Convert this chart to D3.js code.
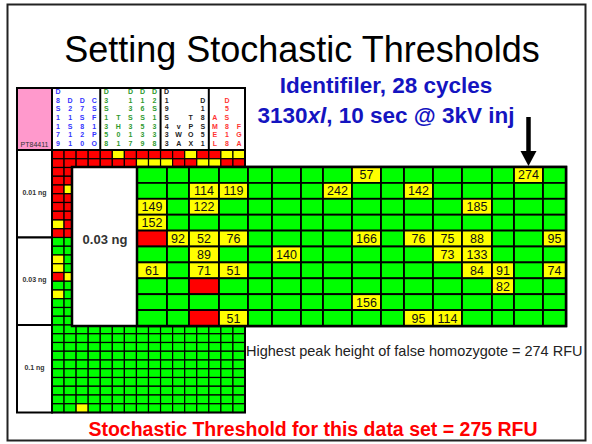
<!DOCTYPE html>
<html>
<head>
<meta charset="utf-8">
<script src="https://cdn.jsdelivr.net/npm/d3@7"></script>
<style>
body { margin: 0; background: #fff; }
text { font-family: "Liberation Sans", Arial, sans-serif; }
</style>
</head>
<body>
<div id="slide"></div>
<script>
// loci of the Identifiler kit, in dye order
const loci = ["D8S1179", "D21S11", "D7S820", "CSF1PO",
              "D3S1358", "TH01", "D13S317", "D16S539", "D2S1338",
              "D19S433", "vWA", "TPOX", "D18S51",
              "AMEL", "D5S818", "FGA"];
const dyes = ["FAM", "FAM", "FAM", "FAM",
              "VIC", "VIC", "VIC", "VIC", "VIC",
              "NED", "NED", "NED", "NED",
              "PET", "PET", "PET"];
const sample = "PT84411";
const doses = ["0.01 ng", "0.03 ng", "0.1 ng"];

// G = both alleles, Y = false homozygote, R = full dropout, "." = hidden under the zoom panel
const calls001 = [
  "RRRRRYRRRRRYRRYY",
  "RRRRRRRYYYRRYYRR",
  "RR..............",
  "RR..............",
  "RY..............",
  "RR..............",
  "RR..............",
  "RR..............",
  "YR..............",
  "RR.............."
];
// 0.03 ng: 0 = both alleles, -1 = dropout, number = surviving peak height (RFU)
const peaks003 = [
  [0, 0, 0, 0, 0, 0, 0, 0, 57, 0, 0, 0, 0, 0, 274, 0],
  [0, 0, 114, 119, 0, 0, 0, 242, 0, 0, 142, 0, 0, 0, 0, 0],
  [149, 0, 122, 0, 0, 0, 0, 0, 0, 0, 0, 0, 185, 0, 0, 0],
  [152, 0, 0, 0, 0, 0, 0, 0, 0, 0, 0, 0, 0, 0, 0, 0],
  [-1, 92, 52, 76, 0, 0, 0, 0, 166, 0, 76, 75, 88, 0, 0, 95],
  [0, 0, 89, 0, 0, 140, 0, 0, 0, 0, 0, 73, 133, 0, 0, 0],
  [61, 0, 71, 51, 0, 0, 0, 0, 0, 0, 0, 0, 84, 91, 0, 74],
  [0, 0, -1, 0, 0, 0, 0, 0, 0, 0, 0, 0, 0, 82, 0, 0],
  [0, 0, 0, 0, 0, 0, 0, 0, 156, 0, 0, 0, 0, 0, 0, 0],
  [0, 0, -1, 51, 0, 0, 0, 0, 0, 0, 95, 114, 0, 0, 0, 0]
];
const calls01 = [
  "GGGGGGGGGGGGGGGG",
  "GGGGGGGGGGGGGGGG",
  "GGGGGGGGGGGGGGGG",
  "GGGGGGGGGGGGGGGG",
  "GGGGGGGGGGGGGGGG",
  "GGGGGGGGGGGGGGGG",
  "GGGGGGGGGGGGGGGG",
  "GGGGGGGGGGGGGGGG",
  "GGGGGGGGGGGGGGGG",
  "GGYGGGGGGGGGGGGG"
];
const falseHomMax = 274;
const threshold = 275;

// layout: relative widths of the magnified columns
const bigColW = [30, 22, 30, 29, 24, 29, 22, 29, 29, 23, 29, 29, 30, 22, 29, 23];

const W = 592, H = 444;
const callColor = d3.scaleOrdinal().domain(["G", "Y", "R"]).range(["#00ff00", "#ffff00", "#ff0000"]);
const dyeColor = d3.scaleOrdinal().domain(["FAM", "VIC", "NED", "PET"]).range(["#3333ff", "#2e9a2e", "#222222", "#ff3333"]);
const peakCall = v => v < 0 ? "R" : (v > 0 ? "Y" : "G");

let svg = d3.select("#slide")
    .append("svg")
    .attr("width", W)
    .attr("height", H);

svg.append("rect")
    .attr("x", 7.5).attr("y", 4.5)
    .attr("width", 578).attr("height", 436)
    .attr("fill", "#fff")
    .attr("stroke", "#222")
    .attr("stroke-width", 2);

svg.append("text")
    .attr("x", 302).attr("y", 62)
    .attr("text-anchor", "middle")
    .style("font-size", "36px")
    .attr("fill", "#000")
    .text("Setting Stochastic Thresholds");

svg.append("text")
    .attr("x", 386).attr("y", 93)
    .attr("text-anchor", "middle")
    .style("font-size", "22.5px").style("font-weight", "bold")
    .attr("fill", "#1414c0")
    .text("Identifiler, 28 cycles");

let sub2 = svg.append("text")
    .attr("x", 386).attr("y", 122.5)
    .attr("text-anchor", "middle")
    .style("font-size", "22.5px").style("font-weight", "bold")
    .attr("fill", "#1414c0");
sub2.append("tspan").text("3130");
sub2.append("tspan").style("font-style", "italic").text("xl");
sub2.append("tspan").text(", 10 sec @ 3kV inj");

// small overview grid
let rowsAll = [];
calls001.forEach(s => rowsAll.push(s.split("")));
peaks003.forEach(r => rowsAll.push(r.map(peakCall)));
calls01.forEach(s => rowsAll.push(s.split("")));

let x = d3.scaleBand().domain(loci).range([52, 245]);
let y = d3.scaleBand().domain(d3.range(rowsAll.length)).range([150, 412.5]);
let yDose = d3.scaleBand().domain(doses).range([150, 412.5]);

let cells = [];
rowsAll.forEach((r, i) => r.forEach((c, j) => { if (c !== ".") cells.push({row: i, locus: loci[j], call: c}); }));

svg.append("g").selectAll("rect")
    .data(cells)
    .enter()
    .append("rect")
    .attr("x", d => x(d.locus))
    .attr("y", d => y(d.row))
    .attr("width", x.bandwidth())
    .attr("height", y.bandwidth())
    .attr("fill", d => callColor(d.call))
    .attr("stroke", "#000")
    .attr("stroke-width", 1.2);

// dose label column
let doseG = svg.append("g");
doseG.selectAll("rect")
    .data(doses)
    .enter()
    .append("rect")
    .attr("x", 17)
    .attr("y", d => yDose(d))
    .attr("width", 35)
    .attr("height", yDose.bandwidth())
    .attr("fill", "#fff")
    .attr("stroke", "#000")
    .attr("stroke-width", 2);
doseG.selectAll("text")
    .data(doses)
    .enter()
    .append("text")
    .attr("x", 34.5)
    .attr("y", d => yDose(d) + yDose.bandwidth() / 2 + 1)
    .attr("text-anchor", "middle")
    .style("font-size", "7px").style("font-weight", "bold")
    .attr("fill", "#333")
    .text(d => d);

svg.append("rect")
    .attr("x", 52).attr("y", 150)
    .attr("width", 193).attr("height", 262.5)
    .attr("fill", "none").attr("stroke", "#000").attr("stroke-width", 2);

// header
let hy = d3.scaleLinear().domain([0, 6]).range([94, 146]);
let head = svg.append("g");
head.append("rect")
    .attr("x", 17).attr("y", 88)
    .attr("width", 228).attr("height", 62)
    .attr("fill", "#fff").attr("stroke", "#000").attr("stroke-width", 2);
head.append("rect")
    .attr("x", 17).attr("y", 88)
    .attr("width", 35).attr("height", 62)
    .attr("fill", "#ff99cc").attr("stroke", "#000").attr("stroke-width", 2);
head.append("text")
    .attr("x", 34.5).attr("y", 146.5)
    .attr("text-anchor", "middle")
    .style("font-size", "7px")
    .attr("fill", "#333")
    .text(sample);

let chars = [];
loci.forEach((l, j) => l.split("").forEach((ch, k) => chars.push({locus: l, dye: dyes[j], ch: ch, pos: 7 - l.length + k})));
head.selectAll("text.h")
    .data(chars)
    .enter()
    .append("text")
    .attr("class", "h")
    .attr("x", d => x(d.locus) + x.bandwidth() / 2)
    .attr("y", d => hy(d.pos))
    .attr("text-anchor", "middle")
    .style("font-size", "7px").style("font-weight", "bold")
    .attr("fill", d => dyeColor(d.dye))
    .text(d => d.ch);

let dyeEdges = loci.filter((l, j) => j > 0 && dyes[j] !== dyes[j - 1]);
head.selectAll("line")
    .data(dyeEdges)
    .enter()
    .append("line")
    .attr("x1", d => x(d)).attr("x2", d => x(d))
    .attr("y1", 88).attr("y2", 150)
    .attr("stroke", "#000").attr("stroke-width", 2);

// magnified 0.03 ng panel
let xb = d3.scaleLinear().domain([0, d3.sum(bigColW)]).range([137, 566]);
let yb = d3.scaleBand().domain(d3.range(peaks003.length)).range([167, 326]);
let cum = [0];
bigColW.forEach(w => cum.push(cum[cum.length - 1] + w));

svg.append("rect")
    .attr("x", 72).attr("y", 167)
    .attr("width", 494).attr("height", 159)
    .attr("fill", "#fff").attr("stroke", "#000").attr("stroke-width", 2.5);

svg.append("text")
    .attr("x", 105).attr("y", 244)
    .attr("text-anchor", "middle")
    .style("font-size", "13px").style("font-weight", "bold")
    .attr("fill", "#333")
    .text(doses[1]);

let big = [];
peaks003.forEach((r, i) => r.forEach((v, j) => big.push({row: i, col: j, v: v})));

let bigG = svg.append("g");
bigG.selectAll("rect")
    .data(big)
    .enter()
    .append("rect")
    .attr("x", d => xb(cum[d.col]))
    .attr("y", d => yb(d.row))
    .attr("width", d => xb(cum[d.col + 1]) - xb(cum[d.col]))
    .attr("height", yb.bandwidth())
    .attr("fill", d => callColor(peakCall(d.v)))
    .attr("stroke", "#000")
    .attr("stroke-width", 1.8);

bigG.selectAll("text")
    .data(big.filter(d => d.v > 0))
    .enter()
    .append("text")
    .attr("x", d => (xb(cum[d.col]) + xb(cum[d.col + 1])) / 2)
    .attr("y", d => yb(d.row) + yb.bandwidth() / 2 + 4.5)
    .attr("text-anchor", "middle")
    .style("font-size", "12.5px")
    .attr("fill", "#111")
    .text(d => d.v);

svg.append("rect")
    .attr("x", 137).attr("y", 167)
    .attr("width", 429).attr("height", 159)
    .attr("fill", "none").attr("stroke", "#000").attr("stroke-width", 2.5);

// arrow to the highest false homozygote
let maxCell = big.find(d => d.v === falseHomMax);
let ax = (xb(cum[maxCell.col]) + xb(cum[maxCell.col + 1])) / 2;
svg.append("line")
    .attr("x1", ax).attr("x2", ax)
    .attr("y1", 117).attr("y2", 153)
    .attr("stroke", "#000").attr("stroke-width", 4.5);
svg.append("path")
    .attr("d", `M${ax - 8},151 L${ax + 8},151 L${ax},${yb(maxCell.row) - 1} Z`)
    .attr("fill", "#000");

svg.append("text")
    .attr("x", 246).attr("y", 356)
    .style("font-size", "14.5px")
    .attr("fill", "#222")
    .text(`Highest peak height of false homozygote = ${falseHomMax} RFU`);

svg.append("text")
    .attr("x", 313).attr("y", 436)
    .attr("text-anchor", "middle")
    .style("font-size", "19.5px").style("font-weight", "bold")
    .attr("fill", "#ff0000")
    .text(`Stochastic Threshold for this data set = ${threshold} RFU`);
</script>
</body>
</html>
